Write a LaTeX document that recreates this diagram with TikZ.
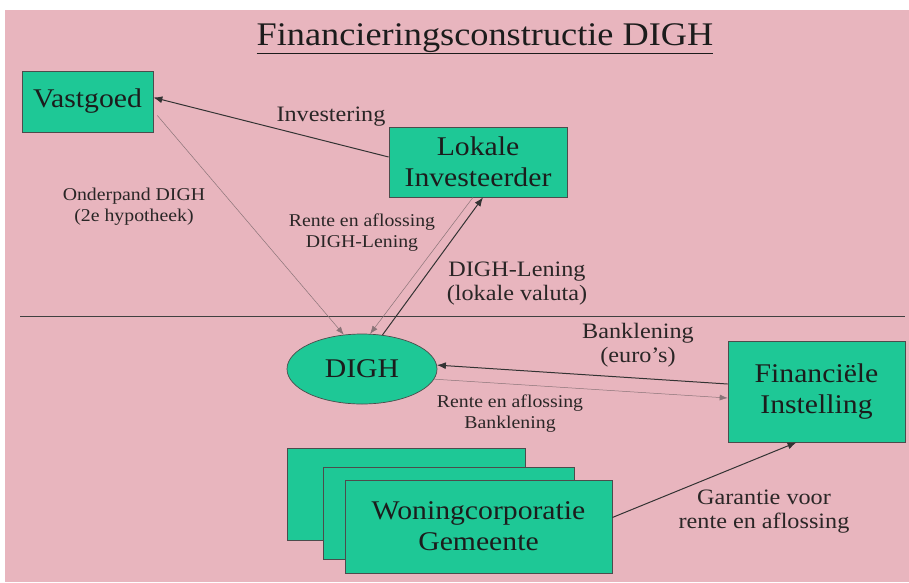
\documentclass[tikz,border=0pt]{standalone}
\usepackage{fontspec}
\setmainfont[FakeStretch=1.1]{Liberation Serif}
\usetikzlibrary{shapes.geometric,calc,arrows.meta}
\definecolor{bgpink}{HTML}{E8B5BE}
\definecolor{boxgreen}{HTML}{1EC896}
\definecolor{inkc}{HTML}{1C1C1C}
\definecolor{labc}{HTML}{2A2626}
\definecolor{thinc}{HTML}{8A7478}
\begin{document}
\begin{tikzpicture}[x=1pt,y=-1pt,
  box/.style={draw=black!70, line width=0.7pt, fill=boxgreen, inner sep=0pt,
    text=inkc, font=\fontsize{27}{31}\selectfont, align=center},
  biglab/.style={text=labc, inner sep=0pt, anchor=base, align=center,
    font=\fontsize{22}{24}\selectfont},
  smalllab/.style={text=labc, inner sep=0pt, anchor=base, align=center,
    font=\fontsize{18}{21}\selectfont},
  thick arrow/.style={draw=black!80, line width=1pt, -{Latex[length=9pt,width=7pt]}},
  thin arrow/.style={draw=thinc, line width=0.5pt, -{Latex[length=8pt,width=6pt]}}
]
\useasboundingbox (0,0) rectangle (909,582);
\fill[white] (0,0) rectangle (909,582);
\fill[bgpink] (5,10) rectangle (909,582);

% title
\node (title) [text=inkc, inner sep=0pt, anchor=base, font=\fontsize{33}{36}\selectfont]
  at (485,45) {\underline{Financieringsconstructie DIGH}};

% divider
\coordinate (divL) at (20,316);
\coordinate (divR) at (905,316);
\draw[black!75, line width=0.8pt] (divL) -- (divR);

% nodes
\node (vast) [box, minimum width=131pt, minimum height=61pt] at (87.5,101.5) {Vastgoed};
\node (lok) [box, minimum width=178pt, minimum height=70pt] at (478,162) {Lokale\\Investeerder};
\node (digh) [box, ellipse, minimum width=150pt, minimum height=70pt] at (362,369) {DIGH};
\node (fin) [box, minimum width=177pt, minimum height=101pt] at (816.5,391.5) {Financiële\\Instelling};
\node (wback) [box, minimum width=238pt, minimum height=92pt] at (406,494) {};
\node (wmid) [box, minimum width=251pt, minimum height=92pt] at (448.5,513) {};
\node (wfront) [box, minimum width=267pt, minimum height=93pt] at (478.5,526.5) {Woningcorporatie\\Gemeente};

% connectors
\draw[thick arrow] ($(lok.west)+(0,-5)$) -- ($(vast.east)+(0,-4)$);
\draw[thin arrow] ($(vast.east)+(4,14)$) -- (digh.118);
\draw[thin arrow] ($(lok.south)+(-5,0)$) -- (digh.77);
\draw[thick arrow] (digh.59) -- ($(lok.south)+(5,0)$);
\draw[thick arrow] ($(fin.west)+(0,-7.5)$) -- (digh.3);
\draw[thin arrow] (digh.-8) -- ($(fin.west)+(0,6.5)$);
\draw[thick arrow] ($(wfront.east)+(0,-9)$) -- ($(fin.south)+(-20,0)$);

% labels (base anchor = baseline of the last line)
\node (linv) [biglab] at (331,121) {Investering};
\node (lond) [smalllab] at (134,221) {Onderpand DIGH\\(2e hypotheek)};
\node (lrdl) [smalllab] at (362,247) {Rente en aflossing\\DIGH-Lening};
\node (ldl) [biglab] at (517,300) {DIGH-Lening\\(lokale valuta)};
\node (lbank) [biglab] at (638,362) {Banklening\\(euro’s)};
\node (lrbk) [smalllab] at (510,428) {Rente en aflossing\\Banklening};
\node (lgar) [biglab] at (764,528) {Garantie voor\\rente en aflossing};
\end{tikzpicture}
\end{document}
